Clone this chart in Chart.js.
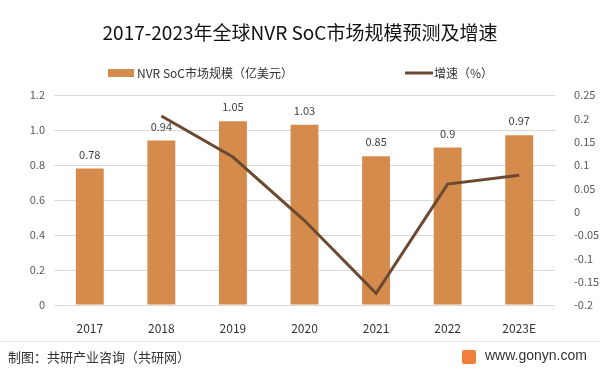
<!DOCTYPE html>
<html>
<head>
<meta charset="utf-8">
<script src="https://cdn.jsdelivr.net/npm/chart.js@4/dist/chart.umd.min.js"></script>
<style>
  body { margin: 0; background: #fff; }
  #wrap { position: relative; width: 600px; height: 373px; overflow: hidden; }
  canvas { position: absolute; left: 0; top: 0; }
  .title { position: absolute; left: 0; width: 600px; top: 18px; text-align: center; font: 19px "Noto Sans CJK SC", sans-serif; color: #111; }
  .foot { position: absolute; top: 347px; font: 13px "Noto Sans CJK SC", sans-serif; color: #333; }
  .sep { position: absolute; left: 0; width: 600px; top: 341px; border-top: 1px solid #e4e4e4; }
  .logo { position: absolute; left: 462px; top: 350px; width: 14px; height: 14px; background: #f07f3c; border-radius: 2px; }
</style>
</head>
<body>
<div id="wrap">
  <canvas id="chart" width="600" height="373"></canvas>
  <div class="title">2017-2023年全球NVR SoC市场规模预测及增速</div>
  <div class="sep"></div>
  <div class="foot" style="left:8px">制图：共研产业咨询（共研网）</div>
  <div class="logo"></div>
  <div class="foot" style="left:485px; font-family: Arial, 'Liberation Sans', sans-serif; font-size:14px;">www.gonyn.com</div>
</div>
<script>
const years = ['2017', '2018', '2019', '2020', '2021', '2022', '2023E'];
const marketSize = [0.78, 0.94, 1.05, 1.03, 0.85, 0.9, 0.97];
const growth = [null, 0.205, 0.117, -0.019, -0.175, 0.059, 0.078];
const sizeLabel = 'NVR SoC市场规模（亿美元）';
const growthLabel = '增速（%）';

const barColor = '#d58b4b';
const lineColor = '#6b4a31';
const cjk = '"Noto Sans CJK SC", sans-serif';

// value labels over the bars (bar dataset is index 0)
const barLabels = {
    id: 'barLabels',
    afterDatasetsDraw(chart) {
        const c = chart.ctx;
        const meta = chart.getDatasetMeta(0);
        c.save();
        c.font = '11px ' + cjk;
        c.fillStyle = '#404040';
        c.textAlign = 'center';
        c.textBaseline = 'middle';
        meta.data.forEach(function(bar, i) {
            c.fillText(String(marketSize[i]), bar.x, bar.y - 14);
        });
        c.restore();
    }
};

// legend drawn by hand so the two items sit where the original puts them
const legendPlugin = {
    id: 'legendPlugin',
    afterDraw(chart) {
        const c = chart.ctx;
        c.save();
        c.font = '12px ' + cjk;
        c.textBaseline = 'middle';
        c.fillStyle = barColor;
        c.fillRect(108, 69, 26, 8);
        c.fillStyle = '#333';
        c.fillText(chart.data.datasets[0].label, 137, 73);
        c.strokeStyle = lineColor;
        c.lineWidth = 3;
        c.beginPath();
        c.moveTo(405, 73);
        c.lineTo(433, 73);
        c.stroke();
        c.fillText(chart.data.datasets[1].label, 434, 73);
        c.restore();
    }
};

new Chart(document.getElementById('chart').getContext('2d'), {
    data: {
        labels: years,
        datasets: [{
            type: 'bar',
            label: sizeLabel,
            data: marketSize,
            yAxisID: 'y',
            backgroundColor: barColor,
            barPercentage: 0.39,
            categoryPercentage: 1,
            order: 1
        }, {
            type: 'line',
            label: growthLabel,
            data: growth,
            yAxisID: 'y1',
            borderColor: lineColor,
            borderWidth: 3,
            pointRadius: 0,
            tension: 0,
            order: 0
        }]
    },
    options: {
        responsive: false,
        animation: false,
        layout: { padding: { top: 95, left: 0, right: 0, bottom: 0 } },
        plugins: {
            legend: { display: false },
            tooltip: { enabled: false }
        },
        scales: {
            x: {
                grid: { display: false },
                border: { display: false },
                ticks: { color: '#333', font: { size: 12, family: cjk }, padding: 8 },
                afterFit: function(s) { s.height = 68; }
            },
            y: {
                position: 'left',
                min: 0,
                max: 1.2,
                ticks: { stepSize: 0.2, color: '#595959', font: { size: 11, family: cjk }, padding: 9 },
                grid: { color: '#d9d9d9', drawTicks: false },
                border: { display: false },
                afterFit: function(s) { s.width = 54; }
            },
            y1: {
                position: 'right',
                min: -0.2,
                max: 0.25,
                ticks: {
                    stepSize: 0.05,
                    color: '#595959',
                    font: { size: 11, family: cjk },
                    padding: 11,
                    callback: function(v) { return String(parseFloat(v.toFixed(2))); }
                },
                grid: { display: false },
                border: { display: false },
                afterFit: function(s) { s.width = 45; }
            }
        }
    },
    plugins: [barLabels, legendPlugin]
});
</script>
</body>
</html>
